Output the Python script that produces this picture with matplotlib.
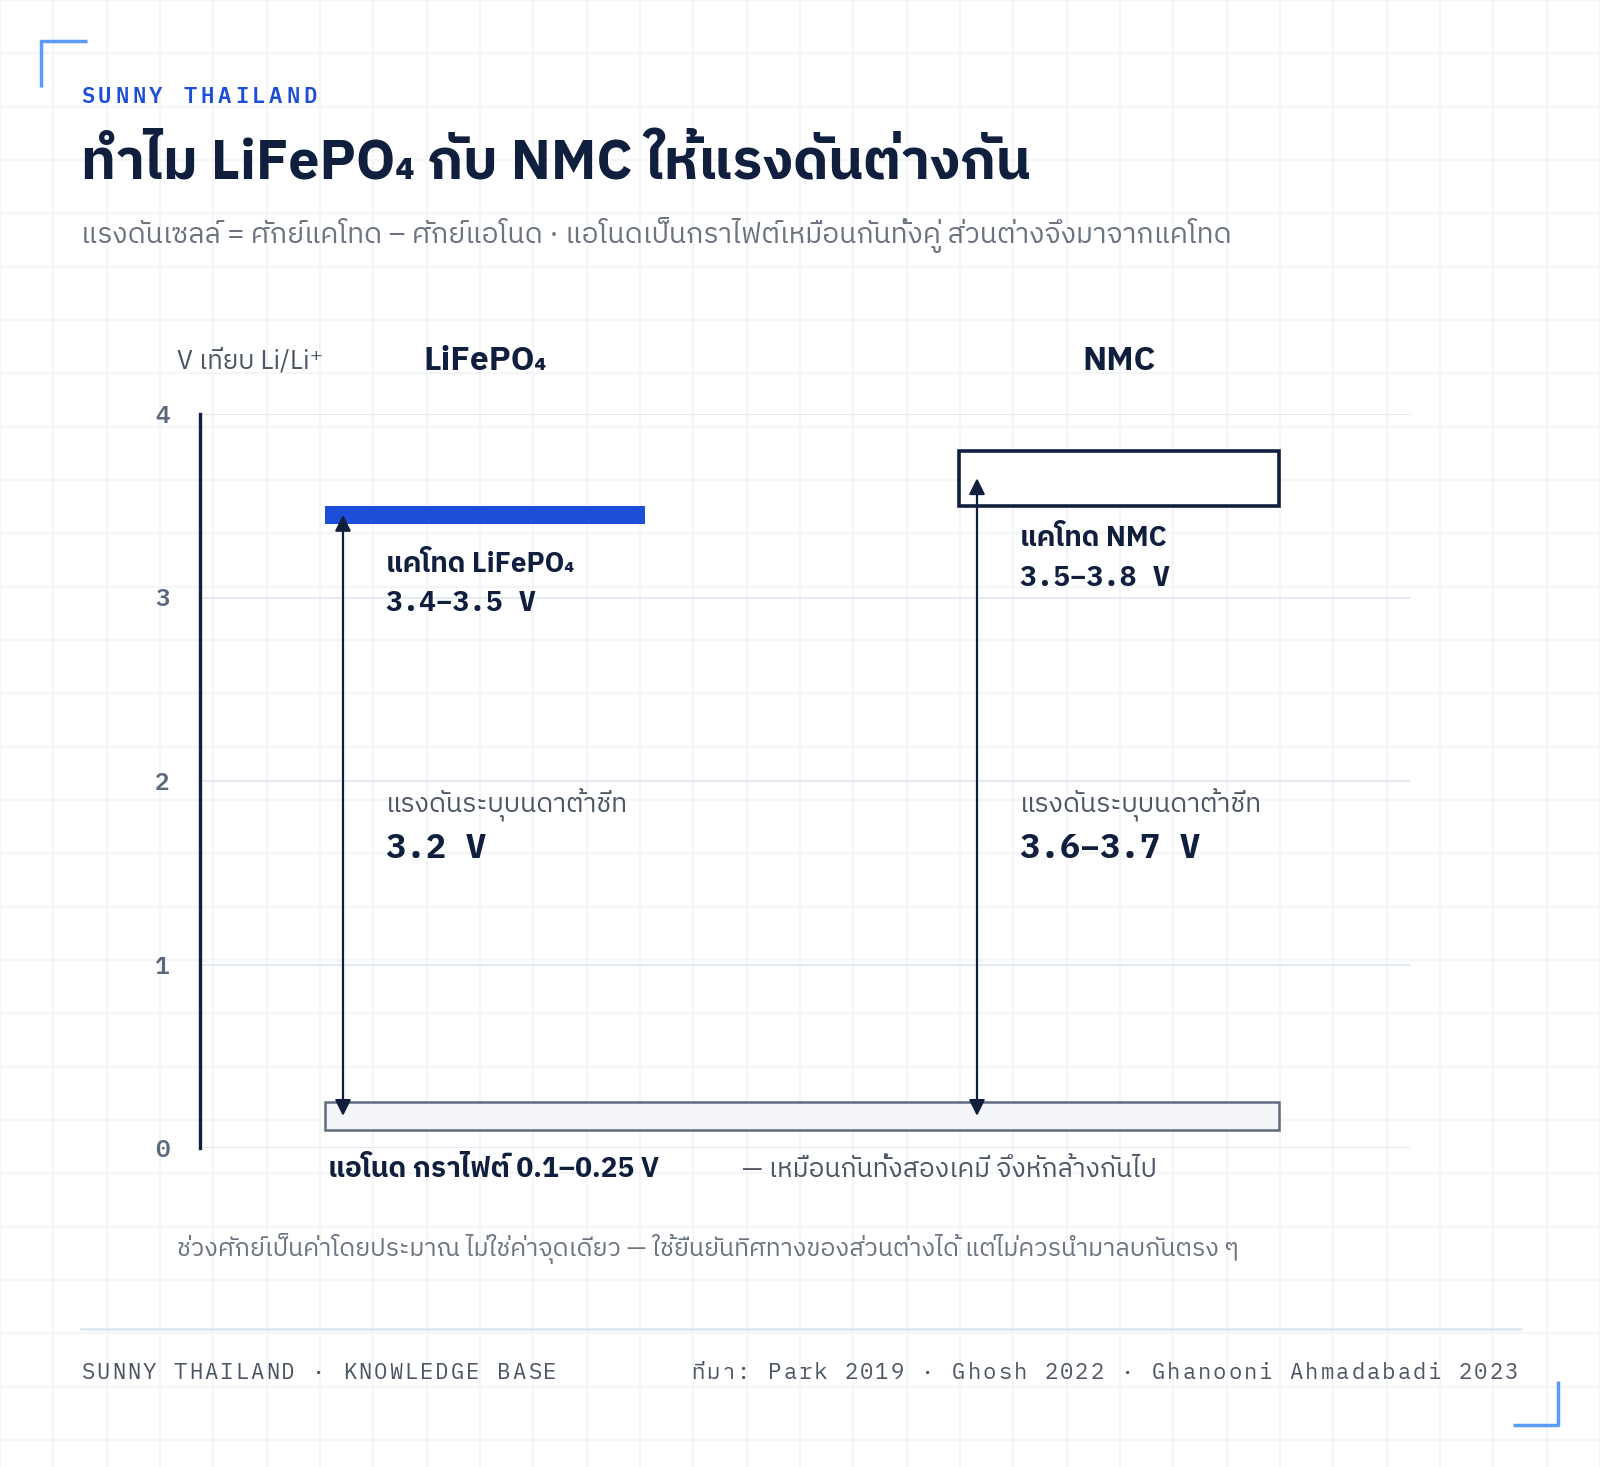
import unicodedata
import numpy as np
import matplotlib
matplotlib.use('Agg')
import matplotlib.pyplot as plt
from matplotlib.patches import Rectangle

# ── DATA ────────────────────────────────────────────────────────────────────
CHEMS = ['LiFePO₄', 'NMC']
CATHODE_LO = [3.4, 3.5]
CATHODE_HI = [3.5, 3.8]
NOMINAL = ['3.2 V', '3.6–3.7 V']
ANODE_LO, ANODE_HI = 0.1, 0.25
Y_TICKS = [0, 1, 2, 3, 4]

# ── STYLE ───────────────────────────────────────────────────────────────────
NAVY = '#0f1f3d'
BLUE = '#1d4ed8'
LIGHTBLUE = '#5b9cf6'
GRAY = '#4b5563'
MUTED = '#6b7280'
THAI = ['IBM Plex Sans Thai', 'IBM Plex Sans', 'DejaVu Sans']
MONO = ['IBM Plex Mono', 'IBM Plex Sans Thai', 'DejaVu Sans']

W, H = 1600, 1467
fig = plt.figure(figsize=(W / 100, H / 100), dpi=100)

# background layer in pixel coordinates
bg = fig.add_axes([0, 0, 1, 1])
bg.set_xlim(0, W)
bg.set_ylim(H, 0)
bg.axis('off')
step = W / 30
for gx in np.arange(0, W + 1, step):
    bg.axvline(gx, color='#f4f5f7', lw=1.5, zorder=0)
for gy in np.arange(0, H + 1, step):
    bg.axhline(gy, color='#f4f5f7', lw=1.5, zorder=0)


def clusters(s):
    """split text into base char + following combining marks"""
    out = []
    for ch in s:
        if out and unicodedata.category(ch) == 'Mn':
            out[-1] += ch
        else:
            out.append(ch)
    return out


def spaced(x, y, s, adv, align='left', **kw):
    """monospace text with letter spacing, one cluster at a time"""
    cl = clusters(s)
    if align == 'right':
        x = x - (len(cl) - 1) * adv - adv / 2
    else:
        x = x + adv / 2
    for i, c in enumerate(cl):
        bg.text(x + i * adv, y, c, ha='center', va='center', **kw)


# corner brackets
bg.plot([41, 41, 87], [87, 41, 41], color=LIGHTBLUE, lw=2.5, solid_capstyle='butt')
bg.plot([1513, 1558, 1558], [1425, 1425, 1381], color=LIGHTBLUE, lw=2.5, solid_capstyle='butt')

# header
spaced(79, 97, 'SUNNY THAILAND', 17.1, family=MONO, fontsize=16, fontweight='semibold', color=BLUE)
bg.text(81, 165, 'ทำไม LiFePO₄ กับ NMC ให้แรงดันต่างกัน', family=THAI, fontsize=40,
        fontweight='bold', color=NAVY, va='center', ha='left')
bg.text(81, 235, 'แรงดันเซลล์ = ศักย์แคโทด – ศักย์แอโนด · แอโนดเป็นกราไฟต์เหมือนกันทั้งคู่ ส่วนต่างจึงมาจากแคโทด',
        family=THAI, fontsize=20.3, color=MUTED, va='center', ha='left')

# footer
bg.plot([81, 1520], [1329, 1329], color='#e2e8f0', lw=2)
spaced(80, 1373, 'SUNNY THAILAND · KNOWLEDGE BASE', 15.4, family=MONO, fontsize=16,
       color='#4b5563')
spaced(1519, 1373, 'ที่มา: Park 2019 · Ghosh 2022 · Ghanooni Ahmadabadi 2023', 15.35,
       align='right', family=MONO, fontsize=16, color='#4b5563')

# ── CHART ───────────────────────────────────────────────────────────────────
ax_l, ax_r, ax_b, ax_t = 200, 1410, 1148, 414
ax = fig.add_axes([ax_l / W, 1 - ax_b / H, (ax_r - ax_l) / W, (ax_b - ax_t) / H])
ax.patch.set_alpha(0)
ax.set_xlim(0, ax_r - ax_l)
ax.set_ylim(0, 4)
for s in ['top', 'right', 'bottom']:
    ax.spines[s].set_visible(False)
ax.spines['left'].set_color(NAVY)
ax.spines['left'].set_linewidth(2.4)
ax.set_xticks([])
ax.set_yticks(Y_TICKS)
ax.set_yticklabels([str(t) for t in Y_TICKS], family=MONO, fontsize=17.5,
                   fontweight='semibold', color='#5b677d')
ax.tick_params(axis='y', length=0, pad=22)
for t in Y_TICKS:
    ax.axhline(t, color='#e2e8f0', lw=1.3, zorder=1)

col_x = [125, 759]     # left edge of each column (px from axis)
col_w = 320
arrow_dx = 18
label_dx = 61

# anode band shared by both
ax.add_patch(Rectangle((col_x[0], ANODE_LO), col_x[1] + col_w - col_x[0], ANODE_HI - ANODE_LO,
                       facecolor='#f3f5f8', edgecolor='#5f6b7f', lw=1.8, zorder=2))

anode_mid = (ANODE_LO + ANODE_HI) / 2
for i, name in enumerate(CHEMS):
    lo, hi = CATHODE_LO[i], CATHODE_HI[i]
    if i == 0:
        ax.add_patch(Rectangle((col_x[i], lo), col_w, hi - lo, facecolor=BLUE,
                               edgecolor='none', zorder=3))
    else:
        ax.add_patch(Rectangle((col_x[i], lo), col_w, hi - lo, facecolor='white',
                               edgecolor=NAVY, lw=2.6, zorder=3))
    ax.annotate('', xy=(col_x[i] + arrow_dx, (lo + hi) / 2),
                xytext=(col_x[i] + arrow_dx, anode_mid),
                arrowprops=dict(arrowstyle='<|-|>', color=NAVY, lw=1.6,
                                mutation_scale=24, shrinkA=0, shrinkB=0), zorder=4)
    # column header
    ax.text(col_x[i] + col_w / 2, 4.29, name, family=THAI, fontsize=24,
            fontweight='bold', color=NAVY, ha='center', va='center', clip_on=False)
    # cathode label
    ty = lo - 0.22 if i == 0 else lo - 0.18
    ax.text(col_x[i] + label_dx, ty, 'แคโทด ' + name, family=THAI, fontsize=20,
            fontweight='bold', color=NAVY, ha='left', va='center')
    ax.text(col_x[i] + label_dx, ty - 0.215, f'{lo}–{hi} V', family=MONO, fontsize=20,
            fontweight='bold', color=NAVY, ha='left', va='center')
    # nominal label
    ax.text(col_x[i] + label_dx, 1.87, 'แรงดันระบุบนดาต้าชีท', family=THAI, fontsize=19.2,
            color=GRAY, ha='left', va='center')
    ax.text(col_x[i] + label_dx, 1.63, NOMINAL[i], family=MONO, fontsize=24,
            fontweight='bold', color=NAVY, ha='left', va='center')

ax.text(-23, 4.29, 'V เทียบ Li/Li⁺', family=THAI, fontsize=18.7, color=GRAY,
        ha='left', va='center', clip_on=False)
ax.text(col_x[0] + 3, -0.115, f'แอโนด กราไฟต์ {ANODE_LO}–{ANODE_HI} V', family=THAI,
        fontsize=20.2, fontweight='bold', color=NAVY, ha='left', va='center', clip_on=False)
ax.text(542, -0.115, '— เหมือนกันทั้งสองเคมี จึงหักล้างกันไป', family=THAI,
        fontsize=19, color=GRAY, ha='left', va='center', clip_on=False)
ax.text(-23, -0.545, 'ช่วงศักย์เป็นค่าโดยประมาณ ไม่ใช่ค่าจุดเดียว — ใช้ยืนยันทิศทางของส่วนต่างได้ แต่ไม่ควรนำมาลบกันตรง ๆ',
        family=THAI, fontsize=18, color=MUTED, ha='left', va='center', clip_on=False)

fig.savefig('out.png', dpi=100, facecolor='white')
